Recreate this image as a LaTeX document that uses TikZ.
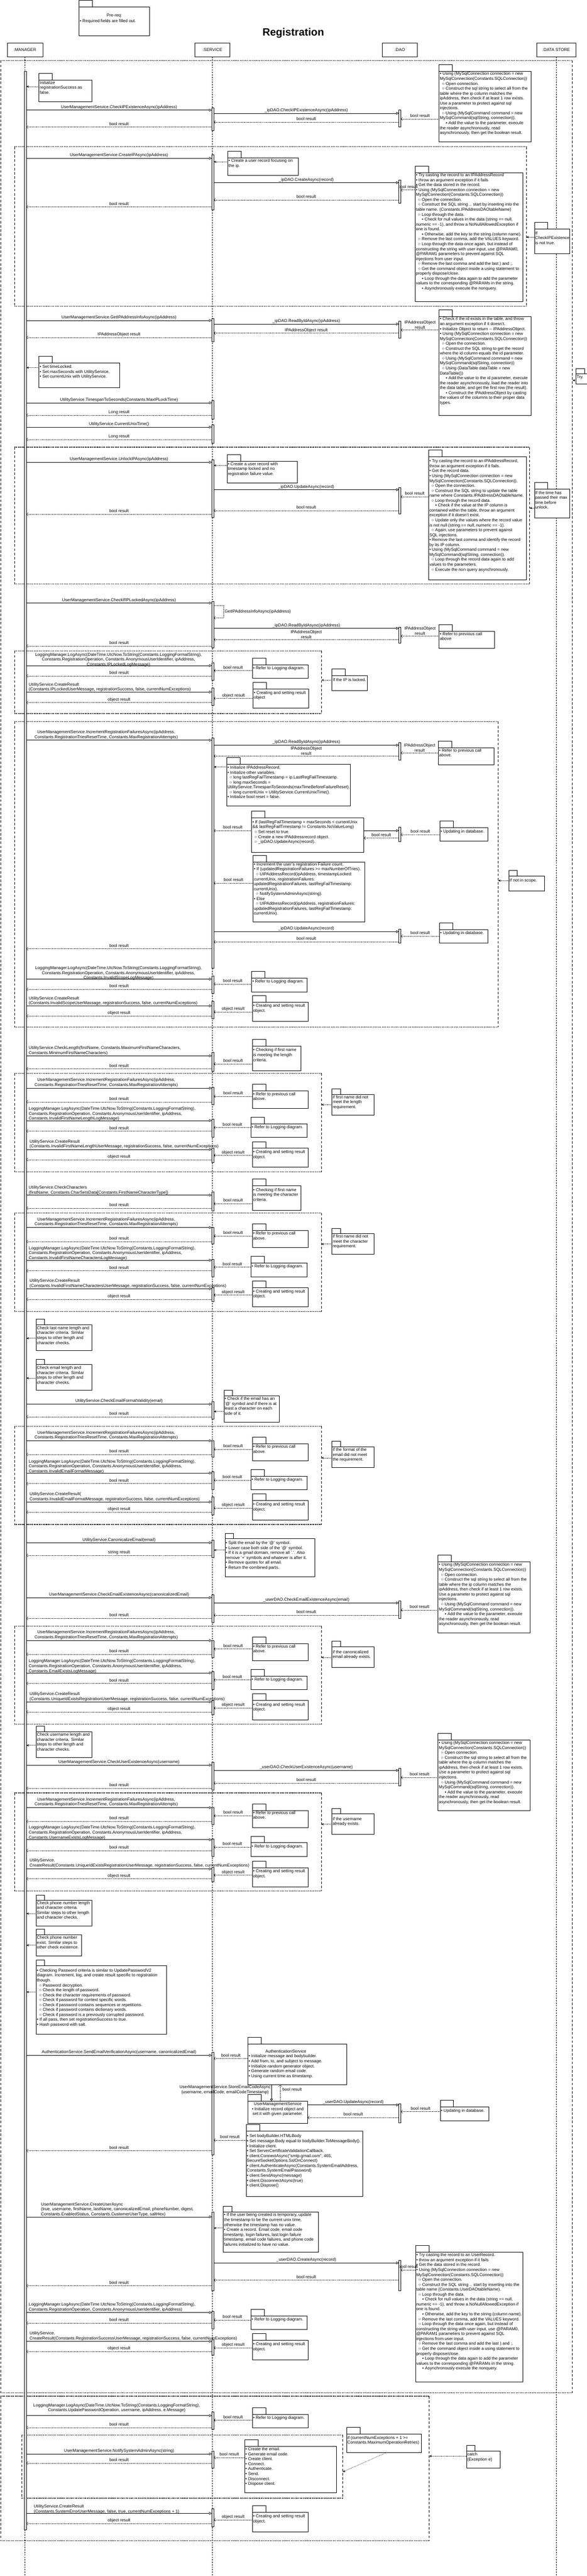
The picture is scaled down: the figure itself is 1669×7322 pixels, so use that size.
\documentclass[tikz,border=0pt]{standalone}
\usepackage{fontspec}
\setmainfont{Liberation Sans}
\usetikzlibrary{arrows.meta}
\newcommand\dfs{\fontsize{12}{14}\selectfont}
\newcommand\lvA{\hspace*{6pt}○ }
\newcommand\lvB{\hspace*{17pt}▪ }
\tikzset{
 every node/.style={font=\dfs, inner sep=0pt, outer sep=0pt},
 hdr/.style={draw, line width=1pt, minimum height=40pt, fill=white},
 notebox/.style={draw, line width=1.3pt, fill=white},
 notetab/.style={draw, line width=1.3pt, fill=white, minimum width=38pt, minimum height=19pt},
 notetabs/.style={draw, line width=1.3pt, fill=white, minimum width=24pt, minimum height=16pt},
 nt/.style={align=left, anchor=north west},
 actbar/.style={draw, line width=0.7pt, fill=white, minimum width=6pt},
 call/.style={line width=1pt, -{Triangle[open, length=7pt, width=8pt]}},
 ret/.style={line width=0.8pt, dash pattern=on 2pt off 1.5pt, -{Straight Barb[length=4pt, width=9pt]}},
 link/.style={line width=0.9pt, dash pattern=on 1.2pt off 1.5pt, -{Stealth[length=7pt, width=6pt]}},
 lbl/.style={anchor=base, yshift=5pt},
 lbltwo/.style={anchor=south, yshift=3pt, align=center},
 mlc/.style={anchor=south, align=center},
 mll/.style={anchor=south west, align=left},
 lifeline/.style={line width=0.7pt, dash pattern=on 4pt off 3pt},
 frmh/.style={line width=2pt, dash pattern=on 3pt off 2pt},
 frmv/.style={line width=1pt, dash pattern=on 7pt off 5pt}
}
\newcommand\dNote[7]{%
  \node[notebox, anchor=north west, minimum width={#4-#2}, minimum height={#5-#3}] (#1) at (#2,#3) {};
  \node[notetab, anchor=south west] (#1tab) at (#1.north west) {};
  \node[nt] (#1txt) at ({#2+2},{#6-5}) {#7};}
\newcommand\dNoteS[7]{%
  \node[notebox, anchor=north west, minimum width={#4-#2}, minimum height={#5-#3}] (#1) at (#2,#3) {};
  \node[notetabs, anchor=south west] (#1tab) at (#1.north west) {};
  \node[nt] (#1txt) at ({#2+2},{#6-5}) {#7};}
\newcommand\dAct[4]{\node[actbar, anchor=north, minimum height={#4-#3}] (#1) at (#2,#3) {};}
\newcommand\dFrame[5]{%
  \coordinate (#1nw) at (#2,#3); \coordinate (#1ne) at (#4,#3);
  \coordinate (#1sw) at (#2,#5); \coordinate (#1se) at (#4,#5);
  \draw[frmh] (#1nw) -- (#1ne); \draw[frmh] (#1sw) -- (#1se);
  \draw[frmv] (#1nw) -- (#1sw); \draw[frmv] (#1ne) -- (#1se);}
\newcommand\dCall[5]{\coordinate (#1a) at (#2,#4); \coordinate (#1b) at (#3,#4);
  \draw[call] (#1a) -- node[lbl] (#1l) {#5} (#1b);}
\newcommand\dRet[5]{\coordinate (#1a) at (#2,#4); \coordinate (#1b) at (#3,#4);
  \draw[ret] (#1a) -- node[lbl] (#1l) {#5} (#1b);}
\newcommand\dRetT[5]{\coordinate (#1a) at (#2,#4); \coordinate (#1b) at (#3,#4);
  \draw[ret] (#1a) -- node[lbltwo] (#1l) {#5} (#1b);}
\newcommand\dLink[4]{\coordinate (#1a) at (#2,#4); \coordinate (#1b) at (#3,#4);
  \draw[link] (#1a) -- (#1b);}
\newcommand\dCallT[7]{\coordinate (#1a) at (#2,#4); \coordinate (#1b) at (#3,#4);
  \draw[call] (#1a) -- (#1b); \node[#5] (#1t) at (#6) {#7};}
\newcommand\txtIncr{UserManagementService.IncrementRegistrationFailuresAsync(ipAddress,\\Constants.RegistrationTriesResetTime, Constants.MaxRegistrationAttempts)}
\newcommand\txtLog[1]{LoggingManager.LogAsync(DateTime.UtcNow.ToString(Constants.LoggingFormatString),\\Constants.RegistrationOperation, Constants.AnonymousUserIdentifier, ipAddress,\\Constants.#1)}
\newcommand\txtCheck{• Using (MySqlConnection connection = new\\MySqlConnection(Constants.SQLConnection))\\\lvA Open connection.\\\lvA Construct the sql string to select all from the\\table where the ip column matches the\\ipAddress, then check if at least 1 row exists.\\Use a parameter to protect against sql\\injections.\\\lvA Using (MySqlCommand command = new\\MySqlCommand(sqlString, connection)).\\\lvB Add the value to the parameter, execute\\the reader asynchronously, read\\asynchronously, then get the boolean result.}
\newcommand\txtCreate[2]{• Try casting the record to an #1\\• throw an argument exception if it fails\\• Get the data stored in the record.\\• Using (MySqlConnection connection = new\\MySqlConnection(Constants.SQLConnection))\\\lvA Open the connection.\\\lvA Construct the SQL string .. start by inserting into the\\table name#2\\\lvA Loop through the data.\\\lvB Check for null values in the data (string == null,\\numeric == -1), and throw a NoNullAllowedException if\\one is found.\\\lvB Otherwise, add the key to the string (column name).\\\lvA Remove the last comma, add the VALUES keyword.\\\lvA Loop through the data once again, but instead of\\constructing the string with user input, use @PARAM0,\\@PARAM1 parameters to prevent against SQL\\injections from user input.\\\lvA Remove the last comma and add the last ) and ;.\\\lvA Get the command object inside a using statement to\\properly dispose/close.\\\lvB Loop through the data again to add the parameter\\values to the corresponding @PARAMs in the string.\\\lvB Asynchronously execute the nonquery.}
\newcommand\txtRefer{• Refer to previous call\\above.}
\newcommand\txtLogd{• Refer to Logging diagram.}
\newcommand\txtRes{• Creating and setting result\\object.}
\begin{document}
\begin{tikzpicture}[x=1pt, y=-1pt]
\useasboundingbox (0,0) rectangle (1669,7322);
\fill[white] (0,0) rectangle (1669,7322);
% ---------- header ----------
\node[notebox, anchor=north west, minimum width=201, minimum height=82] (pre) at (225,20) {};
\node[notetab, anchor=south west] (pretab) at (pre.north west) {};
\node[anchor=base] (pret1) at (325,48) {Pre-req:};
\node[anchor=base west] (pret2) at (227,63) {• Required fields are filled out.};
\node[anchor=base, font=\fontsize{30}{30}\selectfont\bfseries] (title) at (834,102) {Registration};
\node[hdr, minimum width=101] (mgr) at (71,142) {:MANAGER};
\node[hdr, minimum width=100] (svc) at (604,142) {:SERVICE};
\node[hdr, minimum width=99] (dao) at (1137,142) {:DAO};
\node[hdr, minimum width=110] (ds) at (1582,142) {:DATA STORE};
\coordinate (mgrEnd) at (71,7322);
\coordinate (svcEnd) at (604,7322);
\coordinate (dsEnd) at (1582,7322);
\draw[lifeline] (mgr.south) -- (mgrEnd);
\draw[lifeline] (svc.south) -- (svcEnd);
\draw[lifeline] (ds.south) -- (dsEnd);
% ---------- frames ----------
\dFrame{F0}{2}{172}{1628}{6801}
\dFrame{F1}{41}{417}{1497}{871}
\dFrame{F2}{41}{1271}{1506}{1660}
\dFrame{F3}{41}{1850}{914}{2028}
\dFrame{F4}{41}{2051}{1417}{2919}
\dFrame{F5}{41}{3051}{914}{3331}
\dFrame{F6}{41}{3448}{914}{3728}
\dFrame{F7}{41}{4054}{914}{4333}
\dFrame{F8}{41}{4622}{914}{4901}
\dFrame{F9}{41}{5096}{914}{5375}
\dFrame{F10}{2}{6811}{1221}{7222}
\dFrame{F11}{62}{6921}{975}{7101}
% ---------- manager activation ----------
\dAct{mbar}{71.5}{202}{7191}
% ---------- section 1 ----------
\dNote{n1}{111}{228}{262}{289}{235}{Initialize\\registrationSuccess as\\false.}
\dLink{l1}{111}{75}{246}
\dAct{s1}{605}{306}{371}
\dAct{d1}{1137}{312}{361}
\dCall{c1}{75}{602}{313}{UserManagementService.CheckIPExistenceAsync(ipAddress)}
\dCall{c2}{608}{1134}{322}{\_ipDAO.CheckIPExistenceAsync(ipAddress)}
\dNote{n2}{1249}{202}{1510}{403}{210}{\txtCheck}
\dRet{r1}{1249}{1140}{338}{bool result}
\dRet{r2}{1134}{608}{347}{bool result}
\dRet{r3}{602}{75}{361}{bool result}
% ---------- section 2 ----------
\dAct{s2}{605}{440}{597}
\dCall{c3}{75}{602}{450}{UserManagementService.CreateIPAsync(ipAddress)}
\dNote{n3}{648}{449}{848}{498}{457}{• Create a user record focusing on\\the ip.}
\dLink{l2}{648}{608}{460}
\dAct{d2}{1137}{512}{577}
\dCall{c4}{608}{1134}{519}{\_ipDAO.CreateAsync(record)}
\dNote{n4}{1181}{491}{1487}{857}{498}{\txtCreate{IPAddressRecord}{. (Constants.IPAddressDAOtableName)}}
\dRet{r4}{1181}{1140}{540}{bool result}
\dRet{r5}{1134}{608}{568}{bool result}
\dRet{r6}{602}{75}{588}{bool result}
\dNote{n5}{1520}{651}{1620}{721}{663}{If\\CheckIPExistence\\is not true.}
\dLink{l3}{1520}{1497}{674}
% ---------- section 3 ----------
\dAct{s3}{605}{906}{971}
\dCall{c5}{75}{602}{911}{UserManagementService.GetIPAddressInfoAsync(ipAddress)}
\dAct{d3}{1137}{912}{961}
\dCall{c6}{608}{1134}{921}{\_ipDAO.ReadByIdAsync(ipAddress)}
\dNote{n6}{1249}{900}{1510}{1181}{907}{• Check if the id exists in the table, and throw\\an argument exception if it doesn't.\\• Initialize Object to return -{}- IPAddressObject.\\• Using (MySqlConnection connection = new\\MySqlConnection(Constants.SQLConnection))\\\lvA Open the connection.\\\lvA Construct the SQL string to get the record\\where the id column equals the id parameter.\\\lvA Using (MySqlCommand command = new\\MySqlCommand(sqlString, connection))\\\lvA Using (DataTable dataTable = new\\DataTable())\\\lvB Add the value to the id parameter, execute\\the reader asynchronously, load the reader into\\the data table, and get the first row (the result).\\\lvB Construct the IPAddressObject by casting\\the values of the columns to their proper data\\types.}
\dRetT{r7}{1249}{1140}{938}{IPAddressObject\\result}
\dRet{r8}{1134}{608}{947}{IPAddressObject result}
\dRet{r9}{602}{75}{959}{IPAddressObject result}
\dNote{n7}{111}{1032}{341}{1102}{1043}{• Set timeLocked.\\• Set maxSeconds with UtilityService.\\• Set currentUnix with UtilityService.}
\dLink{l4}{111}{75}{1045}
\dAct{s4}{605}{1138}{1191}
\dCall{c7}{75}{602}{1145}{UtilityService.TimespanToSeconds(Constants.MaxIPLockTime)}
\dRet{r10}{602}{75}{1180}{Long result}
\dAct{s5}{605}{1207}{1259}
\dCall{c8}{75}{602}{1214}{UtilityService.CurrentUnixTime()}
\dRet{r11}{602}{75}{1249}{Long result}
\dNoteS{nTry}{1638}{1063}{1676}{1092}{1072}{Try.}
\dLink{lTry}{1638}{1628}{1081}
% ---------- frame 2 ----------
\dAct{s6}{605}{1307}{1471}
\dCall{c9}{75}{602}{1314}{UserManagementService.UnlockIPAsync(ipAddress)}
\dNote{n8}{646}{1311}{846}{1373}{1319}{• Create a user record with\\timestamp locked and no\\registration failure value.}
\dLink{l5}{646}{608}{1323}
\dAct{d4}{1137}{1386}{1461}
\dCall{c10}{608}{1134}{1392}{\_ipDAO.UpdateAsync(record)}
\dNote{n9}{1219}{1298}{1497}{1648}{1311}{• Try casting the record to an IPAddressRecord,\\throw an argument exception if it fails.\\• Get the record data.\\• Using (MySqlConnection connection = new\\MySqlConnection(Constants.SQLConnection)).\\\lvA Open the connection.\\\lvA Construct the SQL string to update the table\\name where Constants.IPAddressDAOtableName.\\\lvA Loop through the record data.\\\lvB Check if the value at the IP column is\\contained within the table, throw an argument\\exception if it doesn't exist.\\\lvA Update only the values where the record value\\is not null (string == null, numeric == -1).\\\lvA Again, use parameters to prevent against\\SQL injections.\\• Remove the last comma and identify the record\\by its IP column.\\• Using (MySqlCommand command = new\\MySqlCommand(sqlString, connection)).\\\lvA Loop through the record data again to add\\values to the parameters.\\\lvA Execute the non query asynchronously.}
\dRet{r12}{1219}{1140}{1412}{bool result}
\dRet{r13}{1134}{608}{1451}{bool result}
\dRet{r14}{602}{75}{1462}{bool result}
\dNote{n10}{1520}{1390}{1620}{1472}{1401}{If the time has\\passed their max\\time before\\unlock.}
\dLink{l6}{1520}{1506}{1444}
% ---------- section 4 ----------
\dAct{s7}{605}{1710}{1841}
\dCall{c11}{75}{602}{1714}{UserManagementService.CheckIfIPLockedAsync(ipAddress)}
\coordinate (sc1a) at (608,1721); \coordinate (sc1b) at (608,1756);
\draw[ret] (sc1a) -- (636,1721) -- (636,1756) -- (sc1b);
\node[anchor=west] (sc1l) at (639,1739) {GetIPAddressInfoAsync(ipAddress)};
\dAct{d5}{1137}{1782}{1828}
\dCall{c12}{608}{1134}{1786}{\_ipDAO.ReadByIdAsync(ipAddress)}
\dNote{n11}{1249}{1794}{1407}{1843}{1802}{• Refer to previous call\\above}
\dRetT{r15}{1249}{1140}{1808}{IPAddressObject\\result}
\dRetT{r16}{1134}{608}{1818}{IPAddressObject\\result}
\dRet{r17}{602}{75}{1836}{bool result}
% ---------- frame 3 ----------
\dAct{s8}{605}{1883}{1933}
\dCallT{c13}{75}{602}{1892}{mlc}{337,1895}{\txtLog{IPLockedLogMessage}}
\dNote{n12}{718}{1889}{876}{1928}{1899}{\txtLogd}
\dRet{r18}{718}{608}{1906}{bool result}
\dRet{r19}{602}{75}{1921}{bool result}
\dAct{s9}{605}{1955}{2005}
\dCallT{c14}{75}{602}{1967}{mll}{82,1966}{UtilityService.CreateResult\\(Constants.IPLockedUserMessage, registrationSuccess, false, currentNumExceptions)}
\dNote{n13}{720}{1958}{878}{2013}{1969}{• Creating and setting result\\object}
\dRet{r20}{720}{608}{1985}{object result}
\dRet{r21}{602}{75}{1997}{object result}
\dNote{n14}{944}{1921}{1045}{1963}{1933}{If the IP is locked.}
\dLink{l7}{944}{914}{1933}
% ---------- frame 4 ----------
\dAct{s10}{605}{2098}{2752}
\dCallT{c15}{75}{602}{2104}{mlc}{302,2101}{\txtIncr}
\dAct{d6}{1137}{2110}{2160}
\dCall{c16}{608}{1134}{2118}{\_ipDAO.ReadByIdAsync(ipAddress)}
\dNote{n15}{1247}{2125}{1405}{2174}{2133}{\txtRefer}
\dRetT{r22}{1247}{1140}{2140}{IPAddressObject\\result}
\dRetT{r23}{1134}{608}{2149}{IPAddressObject\\result}
\dNote{n16}{645}{2173}{996}{2291}{2182}{• Initialize IPAddressRecord.\\• Initialize other variables.\\\lvA long lastRegFailTimestamp = ip.LastRegFailTimestamp.\\\lvA long maxSeconds =\\UtilityService.TimespanToSeconds(maxTimeBeforeFailureReset).\\\lvA long currentUnix = UtilityService.CurrentUnixTime().\\• Initialize bool reset = false.}
\dLink{l8}{645}{608}{2180}
\dNote{n17}{716}{2325}{1035}{2423}{2337}{• If (lastRegFailTimestamp + maxSeconds < currentUnix\\\&\& lastRegFailTimestamp != Constants.NoValueLong)\\\lvA Set reset to true.\\\lvA Create a new IPAddressrecord object.\\\lvA \_ipDAO.UpdateAsync(record).}
\dRet{r24}{716}{608}{2361}{bool result}
\dAct{d7}{1137}{2351}{2392}
\dCall{c17}{1035}{1134}{2361}{}
\dRet{r25}{1134}{1035}{2382}{bool result}
\dNote{n18}{1251}{2352}{1388}{2391}{2363}{• Updating in database.}
\dRet{r26}{1251}{1140}{2372}{bool result}
\dNote{n19}{720}{2450}{1037}{2621}{2457}{• Increment the user's registration Failure count.\\• If (updatedRegistrationFailures >= maxNumberOfTries).\\\lvA UIPAddressRecord(ipAddress, timestampLocked:\\currentUnix, registrationFailures:\\updatedRegistrationFailures, lastRegFailTimestamp:\\currentUnix).\\\lvA NotifySystemAdminAsync(string).\\• Else\\\lvA UIPAddressRecord(ipAddress, registrationFailures:\\updatedRegistrationFailures, lastRegFailTimestamp:\\currentUnix).}
\dRet{r27}{720}{608}{2510}{bool result}
\dAct{d8}{1137}{2641}{2680}
\dCall{c18}{608}{1134}{2648}{\_ipDAO.UpdateAsync(record)}
\dNote{n20}{1250}{2642}{1388}{2681}{2652}{• Updating in database.}
\dRet{r28}{1250}{1140}{2661}{bool result}
\dRet{r29}{1134}{608}{2677}{bool result}
\dRet{r30}{602}{75}{2697}{bool result}
\dNoteS{n21}{1447}{2490}{1548}{2532}{2502}{If not in scope.}
\dLink{l9}{1447}{1417}{2503}
\dAct{s11}{605}{2774}{2823}
\dCallT{c19}{75}{602}{2783}{mlc}{337,2786}{\txtLog{InvalidScopeLogMessage}}
\dNote{n22}{716}{2780}{874}{2819}{2790}{\txtLogd}
\dRet{r31}{716}{608}{2797}{bool result}
\dRet{r32}{602}{75}{2812}{bool result}
\dAct{s12}{605}{2845}{2895}
\dCallT{c20}{75}{602}{2859}{mll}{82,2858}{UtilityService.CreateResult\\(Constants.InvalidScopeUserMassage, registrationSuccess, false, currentNumExceptions)}
\dNote{n23}{718}{2849}{876}{2903}{2859}{\txtRes}
\dRet{r33}{718}{608}{2876}{object result}
\dRet{r34}{602}{75}{2888}{object result}
% ---------- first name length ----------
\dAct{s13}{605}{2990}{3045}
\dCallT{c21}{75}{602}{3001}{mll}{82,2999}{UtilityService.CheckLength(firstName, Constants.MaximumFirstNameCharacters,\\Constants.MinimumFirstNameCharacters)}
\dNote{n24}{718}{2973}{856}{3044}{2985}{• Checking if first name\\is meeting the length\\criteria.}
\dRet{r35}{718}{608}{3024}{bool result}
\dRet{r36}{602}{75}{3038}{bool result}
\dAct{s14}{605}{3090}{3140}
\dCallT{c22}{75}{602}{3093}{mlc}{302,3090}{\txtIncr}
\dNote{n25}{718}{3101}{876}{3150}{3110}{\txtRefer}
\dRet{r37}{718}{608}{3116}{bool result}
\dRet{r38}{602}{75}{3132}{bool result}
\dAct{s15}{605}{3181}{3232}
\dCallT{c23}{75}{602}{3185}{mll}{82,3186}{\txtLog{InvalidFirstNameLengthLogMessage}}
\dNote{n26}{714}{3194}{873}{3232}{3204}{\txtLogd}
\dRet{r39}{714}{608}{3205}{bool result}
\dRet{r40}{602}{75}{3215}{bool result}
\dAct{s16}{605}{3263}{3304}
\dCallT{c24}{75}{602}{3267}{mll}{84,3265}{UtilityService.CreateResult\\(Constants.InvalidFirstNameLengthUserMessage, registrationSuccess, false, currentNumExceptions)}
\dNote{n27}{718}{3264}{876}{3318}{3275}{\txtRes}
\dRet{r41}{718}{608}{3284}{object result}
\dRet{r42}{602}{75}{3296}{object result}
\dNoteS{n28}{944}{3111}{1064}{3169}{3119}{if first name did not\\meet the length\\requirement.}
\dLink{l10}{944}{914}{3140}
% ---------- first name characters ----------
\dAct{s17}{605}{3387}{3441}
\dCallT{c25}{75}{602}{3397}{mll}{82,3396}{UtilityService.CheckCharacters\\(firstName, Constants.CharSetsData[Constants.FirstNameCharacterType])}
\dNote{n29}{718}{3370}{856}{3440}{3382}{• Checking if first name\\is meeting the character\\criteria.}
\dRet{r43}{718}{608}{3421}{bool result}
\dRet{r44}{602}{75}{3434}{bool result}
\dAct{s18}{605}{3489}{3536}
\dCallT{c26}{75}{602}{3489}{mlc}{302,3486}{\txtIncr}
\dNote{n30}{718}{3498}{876}{3546}{3506}{\txtRefer}
\dRet{r45}{718}{608}{3513}{bool result}
\dRet{r46}{602}{75}{3529}{bool result}
\dNoteS{n31}{944}{3507}{1064}{3565}{3515}{if first name did not\\meet the character\\requirement.}
\dLink{l11}{944}{914}{3536}
\dAct{s19}{605}{3579}{3629}
\dCallT{c27}{75}{602}{3582}{mll}{82,3582}{\txtLog{InvalidFirstNameCharactersLogMessage}}
\dNote{n32}{714}{3590}{873}{3629}{3600}{\txtLogd}
\dRet{r47}{714}{608}{3602}{bool result}
\dRet{r48}{602}{75}{3612}{bool result}
\dAct{s20}{605}{3660}{3700}
\dCallT{c28}{75}{602}{3663}{mll}{84,3661}{UtilityService.CreateResult\\(Constants.InvalidFirstNameCharactersUserMessage, registrationSuccess, false, currentNumExceptions)}
\dNote{n33}{718}{3660}{876}{3715}{3671}{\txtRes}
\dRet{r49}{718}{608}{3681}{object result}
\dRet{r50}{602}{75}{3693}{object result}
% ---------- last name / email ----------
\dNoteS{n34}{103}{3766}{262}{3839}{3775}{Check last name length and\\character criteria. Similar\\steps to other length and\\character checks.}
\dLink{l12}{103}{75}{3804}
\dNoteS{n35}{103}{3879}{262}{3952}{3888}{Check email length and\\character criteria. Similar\\steps to other length and\\character checks.}
\dLink{l13}{103}{75}{3917}
\dAct{s21}{605}{3984}{4033}
\dCall{c29}{75}{602}{3991}{UtilityService.CheckEmailFormatValidity(email)}
\dNoteS{n36}{637}{3967}{795}{4042}{3976}{• Check if the email has an\\'@' symbol and if there is at\\least a character on each\\side of it.}
\dLink{l14}{637}{608}{4012}
\dRet{r51}{602}{75}{4027}{bool result}
\dAct{s22}{605}{4095}{4142}
\dCallT{c30}{75}{602}{4095}{mlc}{302,4092}{\txtIncr}
\dNote{n37}{718}{4104}{876}{4152}{4112}{\txtRefer}
\dRet{r52}{718}{608}{4119}{bool result}
\dRet{r53}{602}{75}{4134}{bool result}
\dNoteS{n38}{944}{4113}{1064}{4171}{4121}{if the format of the\\email did not meet\\the requirement.}
\dLink{l15}{944}{914}{4144}
\dAct{s23}{605}{4183}{4234}
\dCallT{c31}{75}{602}{4187}{mll}{82,4188}{\txtLog{InvalidEmailFormatMessage}}
\dNote{n39}{714}{4196}{873}{4234}{4206}{\txtLogd}
\dRet{r54}{714}{608}{4207}{bool result}
\dRet{r55}{602}{75}{4217}{bool result}
\dAct{s24}{605}{4255}{4306}
\dCallT{c32}{75}{602}{4269}{mll}{84,4267}{UtilityService.CreateResult(\\Constants.InvalidEmailFormatMessage, registrationSuccess, false, currentNumExceptions)}
\dNote{n40}{718}{4265}{876}{4320}{4276}{\txtRes}
\dRet{r56}{718}{608}{4286}{object result}
\dRet{r57}{602}{75}{4298}{object result}
% ---------- canonicalize ----------
\dAct{s25}{605}{4378}{4427}
\dCall{c33}{75}{602}{4385}{UtilityService.CanonicalizeEmail(email)}
\dNoteS{n41}{640}{4374}{895}{4481}{4386}{• Split the email by the '@' symbol.\\• Lower case both side of the '@' symbol.\\• If it is a gmail domain, remove all '.'. Also\\remove '+' symbols and whatever is after it.\\• Remove quotes for all email.\\• Return the combined parts.}
\dLink{l16}{640}{608}{4406}
\dRet{r58}{602}{75}{4421}{string result}
\dAct{s26}{605}{4532}{4611}
\dCall{c34}{75}{602}{4541}{UserManagementService.CheckEmailExistenceAsync(canonicalizedEmail)}
\dAct{d9}{1137}{4550}{4600}
\dCall{c35}{608}{1134}{4556}{\_userDAO.CheckEmailExistenceAsync(email)}
\dNote{n42}{1246}{4439}{1508}{4641}{4448}{\txtCheck}
\dRet{r59}{1246}{1140}{4576}{bool result}
\dRet{r60}{1134}{608}{4591}{bool result}
\dRet{r61}{602}{75}{4600}{bool result}
\dAct{s27}{605}{4663}{4711}
\dCallT{c36}{75}{602}{4663}{mlc}{302,4660}{\txtIncr}
\dNote{n43}{718}{4672}{876}{4720}{4680}{\txtRefer}
\dRet{r62}{718}{608}{4687}{bool result}
\dRet{r63}{602}{75}{4702}{bool result}
\dNoteS{n44}{944}{4681}{1064}{4739}{4696}{if the canonicalized\\email already exists.}
\dLink{l17}{944}{914}{4711}
\dAct{s28}{605}{4751}{4802}
\dCallT{c37}{75}{602}{4755}{mll}{82,4756}{\txtLog{EmailExistsLogMessage}}
\dNote{n45}{714}{4764}{873}{4802}{4774}{\txtLogd}
\dRet{r64}{714}{608}{4775}{bool result}
\dRet{r65}{602}{75}{4785}{bool result}
\dAct{s29}{605}{4833}{4874}
\dCallT{c38}{75}{602}{4837}{mll}{84,4835}{UtilityService.CreateResult\\(Constants.UniqueIdExistsRegistrationUserMessage, registrationSuccess, false, currentNumExceptions)}
\dNote{n46}{718}{4833}{876}{4889}{4845}{\txtRes}
\dRet{r66}{718}{608}{4855}{object result}
\dRet{r67}{602}{75}{4866}{object result}
% ---------- username ----------
\dNoteS{n47}{103}{4923}{262}{4995}{4931}{Check username length and\\character criteria. Similar\\steps to other length and\\character checks.}
\dLink{l18}{103}{75}{4961}
\dAct{s30}{605}{5009}{5088}
\dCall{c39}{75}{602}{5017}{UserManagementService.CheckUserExistenceAsync(username)}
\dAct{d10}{1137}{5026}{5076}
\dCall{c40}{608}{1134}{5032}{\_userDAO.CheckUserExistenceAsync(username)}
\dNote{n48}{1246}{4946}{1508}{5147}{4954}{\txtCheck}
\dRet{r68}{1246}{1140}{5052}{bool result}
\dRet{r69}{1134}{608}{5068}{bool result}
\dRet{r70}{602}{75}{5083}{bool result}
\dAct{s31}{605}{5138}{5185}
\dCallT{c41}{75}{602}{5138}{mlc}{302,5135}{\txtIncr}
\dNote{n49}{718}{5147}{876}{5195}{5153}{\txtRefer}
\dRet{r71}{718}{608}{5161}{bool result}
\dRet{r72}{602}{75}{5177}{bool result}
\dNoteS{n50}{944}{5156}{1064}{5214}{5170}{if the username\\already exists.}
\dLink{l19}{944}{914}{5185}
\dAct{s32}{605}{5226}{5276}
\dCallT{c42}{75}{602}{5229}{mll}{82,5229}{\txtLog{UsernameExistsLogMessage}}
\dNote{n51}{714}{5238}{873}{5277}{5248}{\txtLogd}
\dRet{r73}{714}{608}{5250}{bool result}
\dRet{r74}{602}{75}{5260}{bool result}
\dAct{s33}{605}{5307}{5348}
\dCallT{c43}{75}{602}{5312}{mll}{84,5308}{UtilityService.\\CreateResult(Constants.UniqueIdExistsRegistrationUserMessage, registrationSuccess, false, currentNumExceptions)}
\dNote{n52}{718}{5309}{876}{5363}{5319}{\txtRes}
\dRet{r75}{718}{608}{5330}{object result}
\dRet{r76}{602}{75}{5340}{object result}
% ---------- phone / password ----------
\dNoteS{n53}{103}{5402}{262}{5474}{5409}{Check phone number length\\and character criteria.\\Similar steps to other length\\and character checks.}
\dLink{l20}{103}{75}{5439}
\dNoteS{n54}{103}{5500}{232}{5559}{5508}{Check phone number\\exist. Similar steps to\\other check existence.}
\dLink{l21}{103}{75}{5529}
\dNoteS{n55}{103}{5587}{473}{5782}{5601}{• Checking Password criteria is similar to UpdatePasswordV2\\diagram. Increment, log, and create result specific to registration\\though.\\\lvA Password decryption.\\\lvA Check the length of password.\\\lvA Check the character requirements of password.\\\lvA Check if password for context specific words.\\\lvA Check if password contains sequences or repetitions.\\\lvA Check if password contains dictionary words.\\\lvA Check if password is a previously corrupted password.\\• If all pass, then set  registrationSuccess to true.\\• Hash password with salt.}
\dLink{l22}{103}{75}{5662}
% ---------- email verification ----------
\dAct{s34}{605}{5833}{6124}
\dCall{c44}{75}{602}{5842}{AuthenticationService.SendEmailVerificationAsync(username, canonicalizedEmail)}
\dNote{n56}{705}{5810}{986}{5926}{5845}{• Initialize message and bodybuilder.\\• Add from, to, and subject to message.\\• Initialize random generator object.\\• Generate random email code.\\• Using current time as timestamp.}
\node[anchor=base] (n56h) at (813,5835) {AuthenticationService};
\dRet{r77}{705}{608}{5851}{bool result}
\coordinate (c45a) at (772,5926); \coordinate (c45b) at (772,5973);
\draw[call] (c45a) -- (c45b);
\node[align=center] (c45t) at (640,5940) {UserManagementService.StoreEmailCodeAsync\\(username, emailCode, emailCodeTimestamp)};
\coordinate (r78a) at (797,5973); \coordinate (r78b) at (797,5926);
\draw[ret] (r78a) -- (r78b);
\node[anchor=west] (r78l) at (803,5939) {bool result};
\node[notebox, anchor=north west, minimum width=170, minimum height=62] (n57) at (705,5973) {};
\node[notetab, anchor=south west] (n57tab) at (n57.north west) {};
\node[anchor=north, align=center] (n57txt) at (790,5976) {UserManagementService\\• Initialize record object and\\set it with given parameter.};
\dAct{d11}{1137}{5980}{6033}
\dCall{c46}{875}{1134}{5983}{\_userDAO.UpdateAsync(record)}
\dNote{n58}{1252}{5989}{1391}{6028}{5999}{• Updating in database.}
\dRet{r79}{1252}{1140}{6002}{bool result}
\dRet{r80}{1134}{875}{6019}{bool result}
\dNote{n59}{700}{6058}{1032}{6243}{6072}{• Set bodyBuilder.HTMLBody\\• Set message.Body equal to bodyBuilder.ToMessageBody().\\• Initialize client.\\• Set ServerCertificateValidationCallback.\\• client.ConnectAsync("smtp.gmail.com", 465,\\SecureSocketOptions.SslOnConnect)\\• client.AuthenticateAsync(Constants.SystemEmailAddress,\\Constants.SystemEmailPassword)\\• client.SendAsync(message)\\• client.DisconnectAsync(true)\\• client.Dispose()}
\dRet{r81}{700}{608}{6083}{bool result}
\dRet{r82}{602}{75}{6113}{bool result}
% ---------- create user ----------
\dAct{s35}{605}{6287}{6511}
\dCallT{c47}{75}{602}{6301}{mll}{117,6300}{UserManagementService.CreateUserAsync\\(true, username, firstName, lastName, canonicalizedEmail, phoneNumber, digest,\\Constants.EnabledStatus, Constants.CustomerUserType, saltHex)}
\dNoteS{n60}{635}{6287}{905}{6402}{6296}{• If the user being created is temporary, update\\the timestamp to be the current unix time,\\otherwise the timestamp has no value.\\• Create a record. Email code, email code\\timestamp, login failures, last login failure\\timestamp, email code failures, and phone code\\failures initialized to have no value.}
\dLink{l23}{635}{608}{6333}
\dAct{d12}{1137}{6424}{6511}
\dCall{c48}{608}{1134}{6432}{\_userDAO.CreateAsync(record)}
\dNote{n61}{1182}{6401}{1487}{6770}{6410}{\txtCreate{UserRecord.}{ (Constants.UserDAOtableName).}}
\dRet{r83}{1182}{1140}{6452}{bool result}
\dRet{r84}{1134}{608}{6481}{bool result}
\dRet{r85}{602}{75}{6497}{bool result}
\dAct{s36}{605}{6570}{6620}
\dCallT{c49}{75}{602}{6573}{mll}{82,6571}{LoggingManager.LogAsync(DateTime.UtcNow.ToString(Constants.LoggingFormatString),\\Constants.RegistrationOperation, Constants.AnonymousUserIdentifier, ipAddress)}
\dNote{n62}{714}{6583}{873}{6621}{6593}{\txtLogd}
\dRet{r86}{714}{608}{6594}{bool result}
\dRet{r87}{602}{75}{6603}{bool result}
\dAct{s37}{605}{6650}{6694}
\dCallT{c50}{75}{602}{6655}{mll}{84,6653}{UtilityService.\\CreateResult(Constants.RegistrationSuccessUserMessage, registrationSuccess, false, currentNumExceptions)}
\dNote{n63}{718}{6652}{876}{6707}{6663}{\txtRes}
\dRet{r88}{718}{608}{6673}{object result}
\dRet{r89}{602}{75}{6684}{object result}
% ---------- catch ----------
\dAct{s38}{605}{6855}{6905}
\dCallT{c51}{75}{602}{6866}{mlc}{332,6857}{LoggingManager.LogAsync(DateTime.UtcNow.ToString(Constants.LoggingFormatString),\\Constants.UpdatePasswordOperation, username, ipAddress, e.Message)}
\dNote{n64}{718}{6863}{876}{6901}{6872}{\txtLogd}
\dRet{r90}{718}{608}{6879}{bool result}
\dRet{r91}{602}{75}{6900}{bool result}
\dAct{s39}{605}{6966}{7015}
\dCall{c52}{75}{602}{6975}{UserManagementService.NotifySystemAdminAsync(string)}
\dNote{n65}{696}{6954}{957}{7086}{6962}{• Create the email.\\• Generate email code.\\• Create client.\\• Connect.\\• Authenticate.\\• Send.\\• Disconnect.\\• Dispose client.}
\dRet{r92}{696}{608}{6985}{bool result}
\dRet{r93}{602}{75}{7001}{bool result}
\dNote{n66}{986}{6919}{1198}{6971}{6929}{if (currentNumExceptions + 1 >=\\Constants.MaximumOperationRetries)}
\coordinate (l24a) at (1099,6971); \coordinate (l24b) at (975,7026);
\draw[link] (l24a) -- (l24b);
\dAct{s40}{605}{7131}{7182}
\dCallT{c53}{75}{602}{7144}{mll}{96,7145}{UtilityService.CreateResult\\(Constants.SystemErrorUserMessage, false, true, currentNumExceptions + 1)}
\dNote{n67}{718}{7141}{876}{7196}{7152}{\txtRes}
\dRet{r94}{718}{608}{7162}{object result}
\dRet{r95}{602}{75}{7173}{object result}
\dNoteS{n68}{1327}{6967}{1422}{7015}{6977}{ catch\\(Exception e)}
\dLink{l25}{1327}{1221}{6981}
\end{tikzpicture}
\end{document}
